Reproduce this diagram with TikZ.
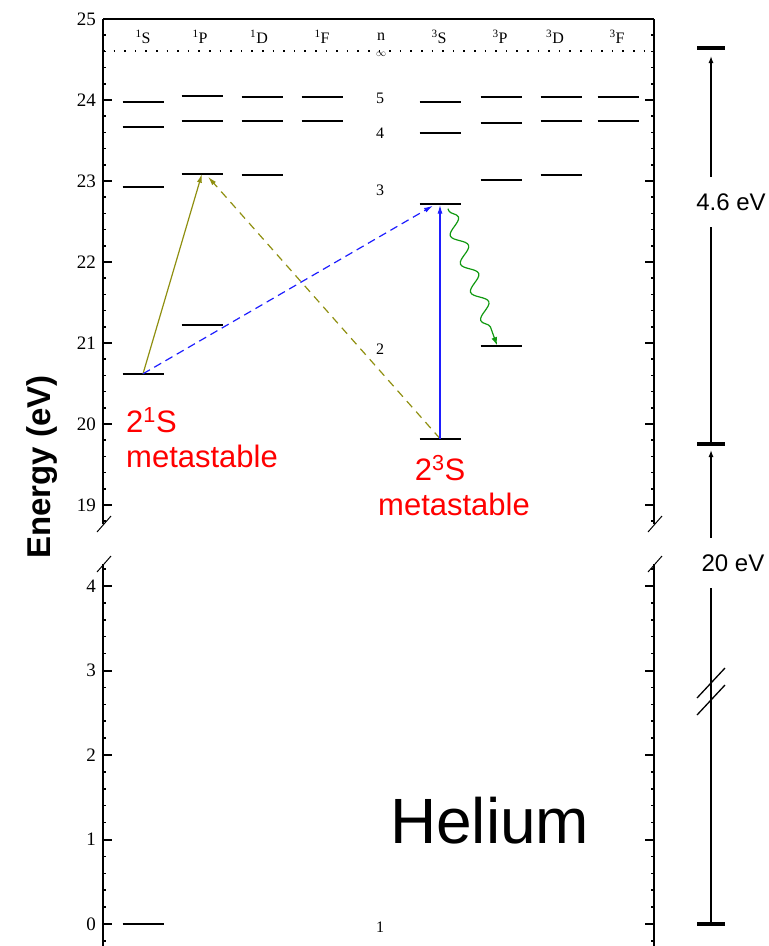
\documentclass[tikz,border=0pt]{standalone}
\usepackage{fontspec}
\setmainfont{Liberation Serif}
\newfontfamily\helv{Liberation Sans}
\usetikzlibrary{arrows.meta,calc,positioning,decorations.pathmorphing}
\definecolor{lineolive}{HTML}{8F8F10}
\definecolor{lineblue}{HTML}{1E1EFF}
\definecolor{linegreen}{HTML}{119911}
\definecolor{labelred}{HTML}{FF0000}

\begin{document}
\begin{tikzpicture}[x=1pt,y=-1pt,
  declare function={eup(\e)=19+(25-\e)*81; elo(\e)=924-\e*84.5;},
  level/.style={line width=2pt},
  bar/.style={line width=4.5pt},
  ticklab/.style={anchor=east,font=\fontsize{19}{19}\selectfont,inner sep=0pt},
  termlab/.style={font=\fontsize{16}{16}\selectfont,inner sep=0pt},
  nlab/.style={font=\fontsize{16}{16}\selectfont,inner sep=0pt},
  redlab/.style={labelred,font=\helv\fontsize{31}{31}\selectfont,inner sep=0pt},
  gaplab/.style={font=\helv\fontsize{24}{24}\selectfont,inner sep=0pt,minimum height=50pt}]
  \useasboundingbox (0,0) rectangle (769,946);

  % frame and broken axes
  \draw[line width=2pt] (103,19) -- (654,19);
  \foreach \ax in {103,654} {
    \draw[line width=2pt] (\ax,19) -- (\ax,524);
    \draw[line width=2pt] (\ax,564) -- (\ax,946);
    \draw[line width=1pt] (\ax-6,532) -- (\ax+8,516);
    \draw[line width=1pt] (\ax-6,572) -- (\ax+8,556);
  }
  \foreach \k in {0,...,31} {
    \pgfmathsetmacro\e{18.8+0.2*\k}
    \draw[line width=1.5pt] (103,{eup(\e)}) -- ++(3,0);
    \draw[line width=1.5pt] (654,{eup(\e)}) -- ++(-3,0);
  }
  \foreach \e in {19,...,25} {
    \draw[line width=2pt] (103,{eup(\e)}) -- ++(9,0);
    \draw[line width=2pt] (654,{eup(\e)}) -- ++(-9,0);
    \node[ticklab] (tick\e) at (96,{eup(\e)}) {\e};
  }
  \foreach \k in {0,...,22} {
    \pgfmathsetmacro\e{-0.2+0.2*\k}
    \draw[line width=1.5pt] (103,{elo(\e)}) -- ++(3,0);
    \draw[line width=1.5pt] (654,{elo(\e)}) -- ++(-3,0);
  }
  \foreach \e in {0,...,4} {
    \draw[line width=2pt] (103,{elo(\e)}) -- ++(9,0);
    \draw[line width=2pt] (654,{elo(\e)}) -- ++(-9,0);
    \node[ticklab] (low\e) at (96,{elo(\e)}) {\e};
  }
  \node[font=\helv\bfseries\fontsize{33}{33}\selectfont,rotate=90,anchor=base,inner sep=0pt] (ylabel) at (50,467) {Energy (eV)};

  % term header and ionisation limit
  \foreach \x/\lab [count=\i] in {143/{\textsuperscript{1}S},200/{\textsuperscript{1}P},259/{\textsuperscript{1}D},322/{\textsuperscript{1}F},439/{\textsuperscript{3}S},500/{\textsuperscript{3}P},555/{\textsuperscript{3}D},617/{\textsuperscript{3}F}}
    \node[termlab] (term\i) at (\x,37) {\lab};
  \node[termlab] (nhead) at (381,37) {n};
  \draw[line width=1.6pt,dash pattern=on 1.6pt off 9pt] (103,51) -- (654,51);
  \node[font=\fontsize{10}{10}\selectfont,inner sep=0pt] (ninf) at (381,54) {$\infty$};

  % levels
  \foreach \col/\x/\n/\E in {S1/143/2/20.62,S1/143/3/22.92,S1/143/4/23.67,S1/143/5/23.97,
      P1/202/2/21.22,P1/202/3/23.09,P1/202/4/23.74,P1/202/5/24.05,
      D1/262/3/23.07,D1/262/4/23.74,D1/262/5/24.04,
      F1/322/4/23.74,F1/322/5/24.04,
      S3/440/2/19.82,S3/440/3/22.72,S3/440/4/23.59,S3/440/5/23.97,
      P3/501/2/20.96,P3/501/3/23.01,P3/501/4/23.71,P3/501/5/24.04,
      D3/561/3/23.07,D3/561/4/23.74,D3/561/5/24.04,
      F3/618/4/23.74,F3/618/5/24.04} {
    \coordinate (\col-\n) at (\x,{eup(\E)});
    \draw[level] ($(\col-\n)+(-20.5,0)$) -- ($(\col-\n)+(20.5,0)$);
  }
  \coordinate (S1-1) at (143,{elo(0)});
  \draw[level] ($(S1-1)+(-20.5,0)$) -- ($(S1-1)+(20.5,0)$);
  \foreach \n/\y in {5/98,4/133,3/190,2/349,1/927}
    \node[nlab] (nlev\n) at (380,\y) {\n};

  % transitions
  \draw[lineolive,line width=1.2pt,-{Latex[length=9pt,width=5pt]}] (S1-2) -- (P1-3);
  \draw[lineolive,line width=1.2pt,dash pattern=on 8pt off 6pt,-{Latex[length=9pt,width=5pt]}] (S3-2) -- ($(P1-3)+(6,3)$);
  \draw[lineblue,line width=1.2pt,dash pattern=on 8pt off 5pt,-{Latex[length=9pt,width=5pt]}] (S1-2) -- ($(S3-3)+(-7,2)$);
  \draw[lineblue,line width=1.2pt,-{Latex[length=9pt,width=5pt]}] (S3-2) -- ($(S3-3)+(0,1)$);
  \draw[linegreen,line width=1.2pt,-{Latex[length=8pt,width=6pt]},decorate,
    decoration={snake,amplitude=7pt,segment length=30pt,pre length=2pt,post length=9pt}]
    ($(S3-3)+(8,5)$) -- ($(P3-2)+(-4,-1)$);

  % labels
  \node[redlab,anchor=base west] (meta1s) at (126,432) {2\textsuperscript{1}S};
  \node[redlab,anchor=base west] (metatxt1) at (126,467) {metastable};
  \node[redlab,anchor=base] (meta3s) at (440,480) {2\textsuperscript{3}S};
  \node[redlab,anchor=base west] (metatxt3) at (378,515) {metastable};
  \node[font=\helv\fontsize{64}{64}\selectfont,anchor=base west,inner sep=0pt] (element) at (390,843) {Helium};

  % energy scale on the right
  \coordinate (ion) at (711,48);
  \coordinate (mid) at (711,444);
  \coordinate (gnd) at (711,924);
  \draw[bar] ($(ion)+(-14,0)$) -- ($(ion)+(14,0)$);
  \draw[bar] ($(mid)+(-14,0)$) -- ($(mid)+(14,0)$);
  \draw[bar] ($(gnd)+(-14,0)$) -- ($(gnd)+(14,0)$);
  \node[gaplab] (gap46) at (731,202) {4.6 eV};
  \node[gaplab] (gap20) at (733,563) {20 eV};
  \draw[line width=1.3pt,-{Latex[length=7pt,width=5pt]}] (gap46.north -| ion) -- ($(ion)+(0,8)$);
  \draw[line width=1.3pt] (gap46.south -| ion) -- (mid);
  \draw[line width=1.3pt,-{Latex[length=7pt,width=5pt]}] (gap20.north -| mid) -- ($(mid)+(0,6)$);
  \draw[line width=1.3pt] (gap20.south -| mid) -- (gnd);
  \foreach \yy in {683,700}
    \draw[line width=1.3pt] (697,\yy+15) -- (725,\yy-15);
\end{tikzpicture}
\end{document}
